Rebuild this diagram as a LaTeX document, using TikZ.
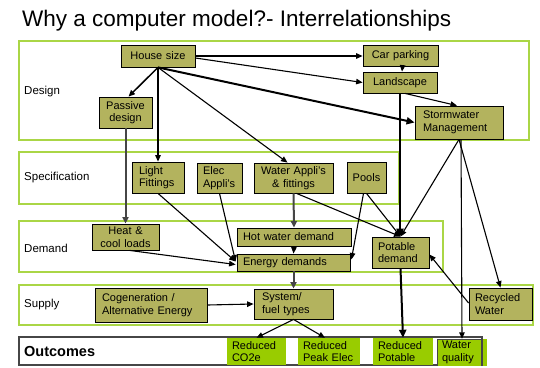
\documentclass[tikz,border=0pt]{standalone}
\usepackage{fontspec}
\setmainfont{Liberation Sans}
\usetikzlibrary{arrows.meta,shadows,calc}
\definecolor{boxolive}{RGB}{179,179,94}
\definecolor{bandgreen}{RGB}{170,214,70}
\definecolor{outgreen}{RGB}{153,204,0}
\definecolor{linegray}{RGB}{70,70,70}
\begin{document}
\begin{tikzpicture}[x=1pt,y=-1pt,
  box/.style={draw=black, line width=0.8pt, fill=boxolive,
    drop shadow={shadow xshift=1.2pt,shadow yshift=-1.2pt,fill=black,opacity=1},
    font=\fontsize{11}{12.5}\selectfont, inner ysep=0pt, align=left},
  outbox/.style={fill=outgreen, font=\fontsize{11}{12.5}\selectfont, inner ysep=0pt, inner xsep=5pt, align=left},
  band/.style={draw=bandgreen, line width=2pt},
  bandlabel/.style={anchor=west, font=\fontsize{11.5}{13}\selectfont, inner sep=0pt},
  ln/.style={line width=1.1pt, -{Triangle[length=6.5pt,width=5.5pt]}},
  thk/.style={line width=2pt, -{Triangle[length=8pt,width=7pt]}},
  gr/.style={draw=linegray, line width=2pt, -{Triangle[length=6.5pt,width=6pt]}}
]
\useasboundingbox (0,0) rectangle (540,367);

% title
\node[anchor=base west, inner sep=0pt, font=\fontsize{22.5}{26}\selectfont] (title) at (22,26) {Why a computer model?- Interrelationships};

% bands
\draw[band] (19,41) rectangle (529,140);
\draw[band] (19,152) rectangle (399,204);
\draw[band] (19,221) rectangle (443,272);
\draw[band] (19,285) rectangle (533,325);
\draw[draw=linegray, line width=2pt] (19,337) rectangle (482,365);

\node[bandlabel] (ldesign) at (24,92) {Design};
\node[bandlabel] (lspec) at (24,178) {Specification};
\node[bandlabel] (ldemand) at (24,248) {Demand};
\node[bandlabel] (lsupply) at (24,305) {Supply};
\node[bandlabel, font=\bfseries\fontsize{14.5}{16}\selectfont] (lout) at (24,352) {Outcomes};

% design nodes
\node[box, minimum width=74, minimum height=22, text width=62, inner xsep=6pt, align=center] (house) at (158,56) {House size};
\node[box, minimum width=75, minimum height=21, text width=63, inner xsep=6pt, align=center] (car) at (400.5,55.5) {Car parking};
\node[box, minimum width=74, minimum height=21, text width=62, inner xsep=6pt, align=center] (land) at (400,82.5) {Landscape};
\node[box, minimum width=88, minimum height=33, text width=72, inner xsep=8pt] (storm) at (459,122.5) {Stormwater\\Management};
\node[box, minimum width=53, minimum height=31, text width=47, inner xsep=3pt, align=center] (passive) at (125.5,112.5) {Passive\\design};

% specification nodes
\node[box, minimum width=52, minimum height=31, text width=38, inner xsep=7pt] (light) at (158,177.5) {Light\\Fittings};
\node[box, minimum width=45, minimum height=30, text width=33, inner xsep=6pt] (elec) at (219.5,178) {Elec\\Appli's};
\node[box, minimum width=79, minimum height=30, text width=75, inner xsep=2pt, align=center] (water) at (293.5,178) {Water Appli's\\\& fittings};
\node[box, minimum width=39, minimum height=31, text width=35, inner xsep=2pt, align=center] (pools) at (366.5,177.5) {Pools};

% demand nodes
\node[box, minimum width=67, minimum height=26, text width=63, inner xsep=2pt, align=center] (heat) at (125.5,237) {Heat \&\\cool loads};
\node[box, minimum width=114, minimum height=18, text width=102, inner xsep=6pt] (hot) at (294,237) {Hot water demand};
\node[box, minimum width=113, minimum height=17, text width=101, inner xsep=6pt] (energy) at (293.5,262.5) {Energy demands};
\node[box, minimum width=57, minimum height=31, text width=45, inner xsep=6pt] (potable) at (400.5,252.5) {Potable\\demand};

% supply nodes
\node[box, minimum width=112, minimum height=34, text width=98, inner xsep=7pt] (cogen) at (151,305) {Cogeneration /\\Alternative Energy};
\node[box, minimum width=79, minimum height=30, text width=63, inner xsep=8pt] (system) at (293.5,304) {System/\\fuel types};
\node[box, minimum width=63, minimum height=32, text width=51, inner xsep=6pt] (recycled) at (500.5,304) {Recycled\\Water};

% outcome nodes
\node[outbox, minimum width=59, minimum height=27, text width=49] (co2) at (256.5,351.5) {Reduced\\CO2e};
\node[outbox, minimum width=62, minimum height=27, text width=52] (peak) at (329,351.5) {Reduced\\Peak Elec};
\node[outbox, minimum width=60, minimum height=27, text width=50] (potred) at (403,351.5) {Reduced\\Potable};
\node[outbox, minimum width=50, minimum height=27, text width=40] (wq) at (462,352.5) {Water\\quality};
\draw[draw=linegray, line width=0.8pt] (437,339) -- (482,339);
\draw[draw=linegray, line width=0.8pt] (437,339) -- (437,366);
\draw[draw=linegray, line width=2pt] (482,337) -- (482,366);

% connectors
\draw[ln] (house.east) -- (house.east -| car.west);
\draw[ln] ($(house.east)+(0,2)$) -- (land.west);
\draw[thk] (house.south) -- (storm.west);
\draw[ln, line width=1.5pt] (house.south) -- ($(passive.north)+(3,0)$);
\draw[ln] (house.south) -- (light.north);
\draw[ln] (house.south) -- ($(water.north)+(-6,0)$);
\draw[ln] ($(car.south)+(2,0)$) -- ($(land.north)+(2,0)$);
\draw[ln] ($(land.south)+(5,0)$) -- ($(storm.north)+(-2,0)$);
\draw[thk] (land.south) -- (land.south |- potable.north);
\draw[ln] (storm.south) -- (potable.north);
\draw[ln] ($(storm.south)+(2,0)$) -- (wq.north);
\draw[ln] (storm.south) -- (recycled.north);
\draw[ln] ($(recycled.west)+(0,-1)$) -- ($(potable.east)+(0,2)$);
\draw[thk] (potable.south) -- (potred.north);

\draw[gr] (passive.south) -- (heat.north);
\draw[ln] (light.south) -- ($(energy.west)+(-1,-1)$);
\draw[ln] (elec.south) -- ($(energy.west)+(-1,-1)$);
\draw[ln] ($(heat.south)+(4,0)$) -- ($(energy.west)+(-1,2)$);
\draw[gr] (water.south) -- (hot.north);
\draw[ln] ($(water.south)+(3,0)$) -- (potable.north);
\draw[ln] ($(pools.south)+(-3,0)$) -- ($(energy.east)+(1,-3)$);
\draw[ln] (pools.south) -- (potable.north);
\draw[ln] (hot.south) -- (energy.north);
\draw[gr] (energy.south) -- (system.north);
\draw[ln] (cogen.east) -- (system.west);
\draw[ln] (system.south) -- (co2.north);
\draw[ln] (system.south) -- ($(peak.north)+(-4,0)$);
\end{tikzpicture}
\end{document}
